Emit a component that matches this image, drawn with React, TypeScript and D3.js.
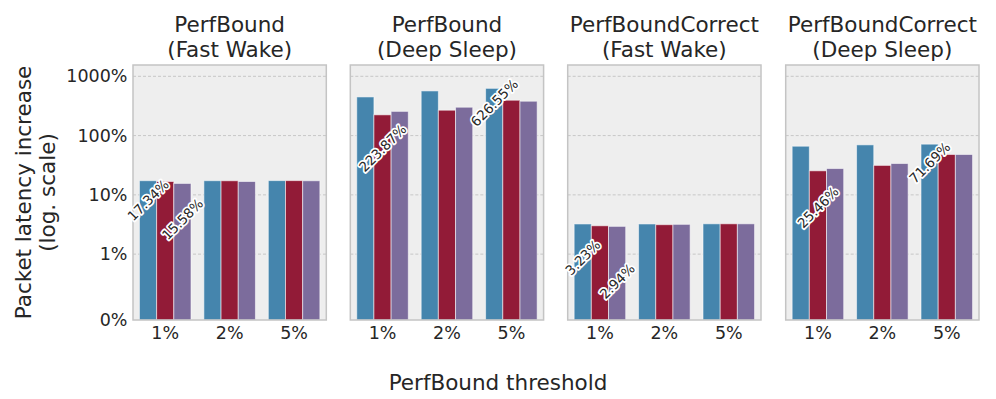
import React from "react";
import * as d3 from "d3";

const panelTitles = [
  ["PerfBound", "(Fast Wake)"],
  ["PerfBound", "(Deep Sleep)"],
  ["PerfBoundCorrect", "(Fast Wake)"],
  ["PerfBoundCorrect", "(Deep Sleep)"],
];
const thresholds = ["1%", "2%", "5%"];
const seriesNames = ["A", "B", "C"];

// values per panel, per series, per threshold (percent)
const p1Blue = [17.34, 17.34, 17.4];
const p1Red = [16.8, 17.3, 17.4];
const p1Purple = [15.58, 16.8, 17.3];
const p2Blue = [449, 567, 626.55];
const p2Red = [223.87, 268, 395];
const p2Purple = [256, 301, 380];
const p3Blue = [3.23, 3.23, 3.25];
const p3Red = [3.01, 3.14, 3.25];
const p3Purple = [2.94, 3.18, 3.25];
const p4Blue = [66.2, 69.8, 71.69];
const p4Red = [25.46, 31.4, 48];
const p4Purple = [27.8, 33.8, 48];

const panelValues = [
  [p1Blue, p1Red, p1Purple],
  [p2Blue, p2Red, p2Purple],
  [p3Blue, p3Red, p3Purple],
  [p4Blue, p4Red, p4Purple],
];

const yTickValues = [0, 1, 10, 100, 1000];
const yTickLabels = ["0%", "1%", "10%", "100%", "1000%"];

// annotations: panel, group, series, label anchor (data units)
const annPanel = [0, 0, 1, 1, 2, 2, 3, 3];
const annGroup = [0, 0, 0, 2, 0, 0, 0, 2];
const annSeries = [0, 2, 1, 0, 0, 2, 1, 0];
const annAnchor = [8.2, 3.9, 62, 360, 0.95, 0.59, 6.2, 35];

const colors = ["#4585ad", "#921b37", "#7c6c9c"];

// matplotlib-like symlog transform (linthresh=1, linscale=1, base 10)
const linscaleAdj = 1 / (1 - 1 / 10);
function symlog(v: number) {
  if (v <= 1) return v * linscaleAdj;
  return linscaleAdj + Math.log10(v);
}

export default function App() {
  const W = 996;
  const H = 399;
  const panelLefts = [133, 350.3, 567.7, 785.7];
  const pw = 193.3;
  const top = 65;
  const bottom = 320;
  const yT = d3.scaleLinear().domain([0, 4.302]).range([bottom, top]);
  const y = (v: number) => yT(symlog(v));
  const textColor = "#262626";
  const font = "DejaVu Sans, sans-serif";

  return (
    <svg
      width={W}
      height={H}
      style={{ position: "absolute", left: 0, top: 0, background: "#fff" }}
      fontFamily={font}
    >
      {panelLefts.map((left, pi) => {
        const x = d3
          .scaleBand<string>()
          .domain(thresholds)
          .range([left, left + pw])
          .paddingInner(0.2)
          .paddingOuter(0.1);
        const xs = d3
          .scaleBand<string>()
          .domain(seriesNames)
          .range([0, x.bandwidth()]);
        const vals = panelValues[pi];
        return (
          <g key={pi}>
            <rect x={left} y={top} width={pw} height={bottom - top} fill="#eeeeee" />
            {yTickValues.slice(1).map((t) => (
              <line
                key={t}
                x1={left}
                x2={left + pw}
                y1={y(t)}
                y2={y(t)}
                stroke="#bcbcbc"
                strokeWidth={0.8}
                strokeDasharray="3,2"
              />
            ))}
            {seriesNames.map((s, si) =>
              thresholds.map((th, gi) => {
                const v = vals[si][gi];
                return (
                  <rect
                    key={s + th}
                    x={(x(th) as number) + (xs(s) as number)}
                    y={y(v)}
                    width={xs.bandwidth()}
                    height={bottom - y(v)}
                    fill={colors[si]}
                    stroke="#ffffff"
                    strokeOpacity={0.55}
                    strokeWidth={1}
                  />
                );
              })
            )}
            <rect
              x={left}
              y={top}
              width={pw}
              height={bottom - top}
              fill="none"
              stroke="#c4c4c4"
              strokeWidth={1.5}
            />
            {thresholds.map((th) => (
              <text
                key={th}
                x={(x(th) as number) + x.bandwidth() / 2}
                y={339}
                textAnchor="middle"
                fontSize={17.5}
                fill={textColor}
              >
                {th}
              </text>
            ))}
            <text
              x={left + pw / 2}
              y={32}
              textAnchor="middle"
              fontSize={21.5}
              fill={textColor}
            >
              {panelTitles[pi][0]}
            </text>
            <text
              x={left + pw / 2}
              y={57}
              textAnchor="middle"
              fontSize={21.5}
              fill={textColor}
            >
              {panelTitles[pi][1]}
            </text>
            {annPanel.map((ap, ai) => {
              if (ap !== pi) return null;
              const gi = annGroup[ai];
              const si = annSeries[ai];
              const cx =
                (x(thresholds[gi]) as number) +
                (xs(seriesNames[si]) as number) +
                xs.bandwidth() / 2;
              const cy = y(annAnchor[ai]);
              const label = vals[si][gi].toFixed(2) + "%";
              return (
                <g key={ai} transform={`translate(${cx},${cy}) rotate(-45)`}>
                  <text
                    textAnchor="middle"
                    dominantBaseline="central"
                    fontSize={13.5}
                    fill="none"
                    stroke="#ffffff"
                    strokeWidth={3.5}
                    strokeLinejoin="round"
                  >
                    {label}
                  </text>
                  <text
                    textAnchor="middle"
                    dominantBaseline="central"
                    fontSize={13.5}
                    fill={textColor}
                  >
                    {label}
                  </text>
                </g>
              );
            })}
          </g>
        );
      })}
      {yTickValues.map((t, i) => (
        <text
          key={t}
          x={127.5}
          y={y(t)}
          textAnchor="end"
          dominantBaseline="central"
          fontSize={17.5}
          fill={textColor}
        >
          {yTickLabels[i]}
        </text>
      ))}
      <g transform={`translate(0,${(top + bottom) / 2}) rotate(-90)`}>
        <text x={0} y={31} textAnchor="middle" fontSize={21.5} fill={textColor}>
          Packet latency increase
        </text>
        <text x={0} y={55} textAnchor="middle" fontSize={21.5} fill={textColor}>
          (log. scale)
        </text>
      </g>
      <text x={498} y={390} textAnchor="middle" fontSize={21.5} fill={textColor}>
        PerfBound threshold
      </text>
    </svg>
  );
}
